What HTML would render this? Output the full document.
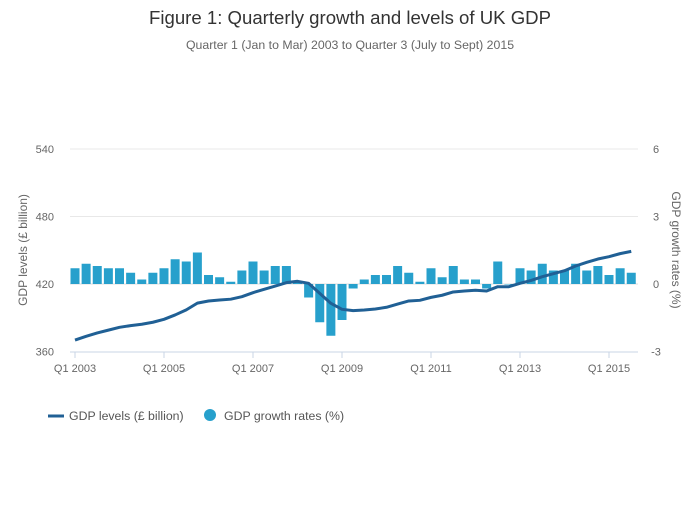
<!DOCTYPE html>
<html><head><meta charset="utf-8"><style>
body{margin:0;background:#fff;font-family:"Liberation Sans",sans-serif}
svg text{font-family:"Liberation Sans",sans-serif}
</style></head><body>
<svg id="chart" width="700" height="502">
<text x="350" y="24" text-anchor="middle" font-size="18.6" fill="#333">Figure 1: Quarterly growth and levels of UK GDP</text>
<text x="350" y="49" text-anchor="middle" font-size="12.3" fill="#666">Quarter 1 (Jan to Mar) 2003 to Quarter 3 (July to Sept) 2015</text>
<g id="grid"></g><g id="bars"></g><g id="line"></g><g id="axes"></g>
<text transform="translate(27,250) rotate(-90)" text-anchor="middle" font-size="12" fill="#666">GDP levels (£ billion)</text>
<text transform="translate(672,250) rotate(90)" text-anchor="middle" font-size="12" fill="#666">GDP growth rates (%)</text>
<g>
<g><line x1="48" y1="416" x2="64" y2="416" stroke="#206095" stroke-width="3"/><text x="69" y="420" font-size="12.3" fill="#555">GDP levels (£ billion)</text></g>
<g><circle cx="210" cy="415" r="6" fill="#27a0cc"/><text x="224" y="420" font-size="12.3" fill="#555">GDP growth rates (%)</text></g>
</g>
</svg>
<script>
const growth=[0.7,0.9,0.8,0.7, 0.7,0.5,0.2,0.5, 0.7,1.1,1.0,1.4, 0.4,0.3,0.1,0.6, 1.0,0.6,0.8,0.8, 0.1,-0.6,-1.7,-2.3, -1.6,-0.2,0.2,0.4, 0.4,0.8,0.5,0.1, 0.7,0.3,0.8,0.2, 0.2,-0.2,1.0,0.0, 0.7,0.6,0.9,0.6, 0.6,0.9,0.6,0.8, 0.4,0.7,0.5];
const levels=[370.2,373.5,376.5,379, 381.5,383,384.2,386, 388.6,392.5,397,403, 404.9,405.8,406.5,408.7, 412.3,415.3,418.2,421.2, 422.4,420.6,411.7,402.8, 397.5,396.3,396.9,397.8, 399.3,402.2,404.9,405.5, 408.1,410,412.9,413.8, 414.4,413.8,417.6,417.6, 420.6,423.2,426.5,429.2, 431.8,436,439.3,442.2, 444.3,447,449];
const leftTicks=[360,420,480,540];
const rightTicks=[-3,0,3,6];
const xTickLabels=["Q1 2003","Q1 2005","Q1 2007","Q1 2009","Q1 2011","Q1 2013","Q1 2015"];
const NS="http://www.w3.org/2000/svg";
const xq=i=>75+i*11.125;
const yL=v=>284-(v-420)*1.125;
const yR=v=>284-v*22.5;
function mk(t,a,p){const e=document.createElementNS(NS,t);for(const k in a)e.setAttribute(k,a[k]);p.appendChild(e);return e;}
const grid=document.getElementById('grid'),bars=document.getElementById('bars'),line=document.getElementById('line'),axes=document.getElementById('axes');
leftTicks.forEach((v,i)=>{
 const y=yL(v);
 if(v>360){const g=mk('line',{x1:70,x2:638,y1:y,y2:y,stroke:v==420?'#ddd':'#e8e8e8','stroke-width':1},grid);
 
 }
 const t=mk('text',{x:54,y:y+4,'text-anchor':'end','font-size':11,fill:'#666'},axes);t.textContent=v;
 
 
});
rightTicks.forEach(v=>{
 const t=mk('text',{x:656,y:yR(v)+4,'text-anchor':'middle','font-size':11,fill:'#666'},axes);t.textContent=v;
 
 
});
growth.forEach((g,i)=>{
 const y0=yR(0),y1=yR(g);
 const r=mk('rect',{x:xq(i)-4.5,y:Math.min(y0,y1),width:9,height:Math.max(Math.abs(y1-y0),0.5),fill:'#27a0cc'},bars);
 
 
});
const p=mk('path',{d:levels.map((v,i)=>(i?'L':'M')+xq(i)+','+yL(v)).join(''),fill:'none',stroke:'#206095','stroke-width':3,'stroke-linejoin':'round'},line);


const ax=mk('line',{x1:70,x2:638,y1:352,y2:352,stroke:'#c8d4e6','stroke-width':1},axes);


xTickLabels.forEach((l,i)=>{
 const x=xq(i*8);
 const tk=mk('line',{x1:x,x2:x,y1:352,y2:358,stroke:'#c8d4e6'},axes);
 
 
 const t=mk('text',{x:x,y:372,'text-anchor':'middle','font-size':11,fill:'#666'},axes);t.textContent=l;
 
 
});
</script>
</body></html>
